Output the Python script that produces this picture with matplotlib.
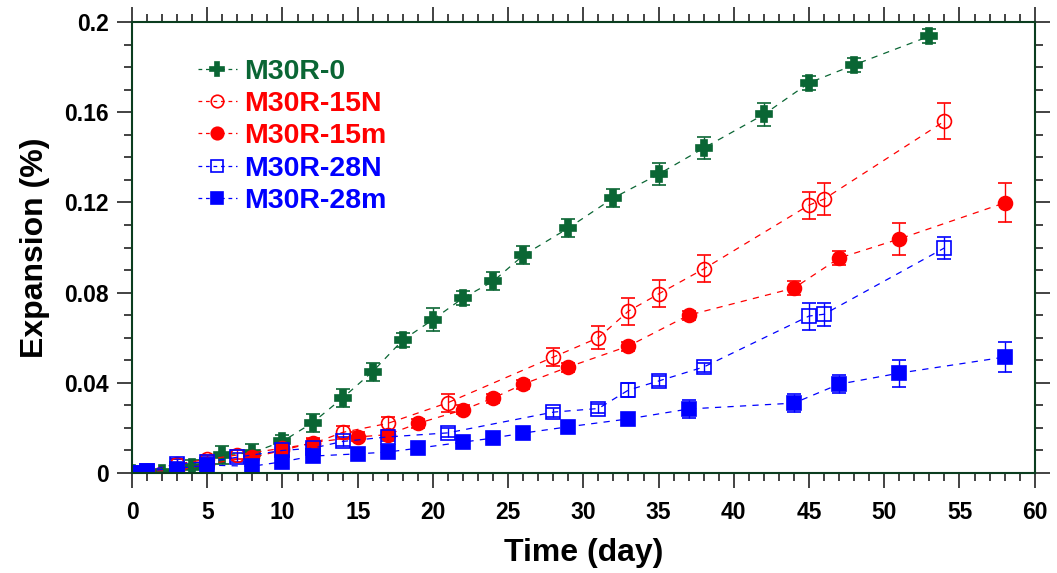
import matplotlib.pyplot as plt
from matplotlib.lines import Line2D
from matplotlib.ticker import MultipleLocator

plt.rcParams['font.family'] = ['Liberation Sans', 'DejaVu Sans']
plt.rcParams['font.weight'] = 'bold'

# expansion readings (%) and their scatter for each mix
day_0 = [0, 1, 2, 4, 6, 8, 10, 12, 14, 16, 18, 20, 22, 24, 26, 29, 32, 35, 38, 42, 45, 48, 53]
exp_0 = [0, 0, 0, 0.0027, 0.008, 0.009, 0.014, 0.0223, 0.0333, 0.045, 0.059, 0.068, 0.0776, 0.085,
         0.0965, 0.1086, 0.122, 0.1325, 0.1441, 0.159, 0.173, 0.181, 0.1937]
err_0 = [0.002, 0.002, 0.002, 0.003, 0.004, 0.004, 0.003, 0.004, 0.004, 0.004, 0.003, 0.005, 0.003, 0.004,
         0.004, 0.004, 0.004, 0.005, 0.005, 0.005, 0.003, 0.003, 0.003]

day_15n = [0, 1, 3, 5, 7, 10, 12, 14, 17, 21, 28, 31, 33, 35, 38, 45, 46, 54]
exp_15n = [0, 0.001, 0.004, 0.006, 0.008, 0.011, 0.013, 0.018, 0.022, 0.0312, 0.0514, 0.060, 0.0718,
           0.0794, 0.0905, 0.1188, 0.1215, 0.156]
err_15n = [0.001, 0.001, 0.002, 0.002, 0.002, 0.002, 0.002, 0.003, 0.003, 0.004, 0.004, 0.005, 0.006,
           0.006, 0.006, 0.006, 0.007, 0.008]

day_15m = [0, 1, 3, 5, 8, 10, 12, 15, 17, 19, 22, 24, 26, 29, 33, 37, 44, 47, 51, 58]
exp_15m = [0, 0.001, 0.001, 0.004, 0.007, 0.010, 0.0135, 0.016, 0.017, 0.022, 0.028, 0.0332, 0.0394,
           0.047, 0.0563, 0.070, 0.082, 0.0953, 0.1038, 0.1198]
err_15m = [0.001, 0.001, 0.002, 0.002, 0.002, 0.002, 0.002, 0.002, 0.002, 0.002, 0.002, 0.002, 0.002,
           0.002, 0.002, 0.002, 0.003, 0.003, 0.007, 0.0087]

day_28n = [0, 1, 3, 5, 7, 10, 12, 14, 17, 21, 28, 31, 33, 35, 38, 45, 46, 54]
exp_28n = [0, 0.001, 0.004, 0.005, 0.007, 0.010, 0.011, 0.014, 0.016, 0.0178, 0.027, 0.0286, 0.0368,
           0.0408, 0.047, 0.0696, 0.0704, 0.0998]
err_28n = [0.001, 0.001, 0.002, 0.002, 0.002, 0.002, 0.002, 0.002, 0.002, 0.002, 0.002, 0.002, 0.003,
           0.002, 0.002, 0.006, 0.005, 0.005]

day_28m = [0, 1, 3, 5, 8, 10, 12, 15, 17, 19, 22, 24, 26, 29, 33, 37, 44, 47, 51, 58]
exp_28m = [0, 0.001, 0.002, 0.0035, 0.003, 0.005, 0.0075, 0.0085, 0.0093, 0.011, 0.0137, 0.0155,
           0.0177, 0.0205, 0.024, 0.0284, 0.031, 0.0394, 0.0443, 0.0514]
err_28m = [0.001, 0.001, 0.001, 0.001, 0.001, 0.001, 0.001, 0.001, 0.001, 0.001, 0.001, 0.001, 0.001,
           0.001, 0.002, 0.004, 0.004, 0.004, 0.006, 0.0065]

green = '#0a6634'
red = '#ff0000'
blue = '#0000ff'

fig = plt.figure(figsize=(10.57, 5.73), dpi=100)
ax = fig.add_axes([0.1249, 0.1745, 0.854, 0.7871])

series = [
    (day_0, exp_0, err_0, 'M30R-0', green, 'P', green, 11),
    (day_15n, exp_15n, err_15n, 'M30R-15N', red, 'o', 'none', 10),
    (day_15m, exp_15m, err_15m, 'M30R-15m', red, 'o', red, 10),
    (day_28n, exp_28n, err_28n, 'M30R-28N', blue, 's', 'none', 9.5),
    (day_28m, exp_28m, err_28m, 'M30R-28m', blue, 's', blue, 9.5),
]

handles = []
for d, e, s, name, c, m, fc, ms in series:
    ax.errorbar(d, e, yerr=s, color=c, ecolor=c, elinewidth=1.0, capsize=5, capthick=1.0,
                linestyle=(0, (5, 5)), linewidth=0.9, marker=m, markersize=ms,
                markerfacecolor=fc, markeredgecolor=c, markeredgewidth=1.2)
    handles.append(Line2D([], [], color=c, linestyle=(0, (3, 3)), linewidth=0.9, marker=m,
                          markersize=ms * 0.9, markerfacecolor=fc, markeredgecolor=c,
                          markeredgewidth=1.2, label=name))

ax.set_xlim(0, 60)
ax.set_ylim(0, 0.2)
ax.xaxis.set_major_locator(MultipleLocator(5))
ax.xaxis.set_minor_locator(MultipleLocator(1))
ax.yaxis.set_minor_locator(MultipleLocator(0.01))
ax.set_yticks([0, 0.04, 0.08, 0.12, 0.16, 0.2])
ax.set_yticklabels(['0', '0.04', '0.08', '0.12', '0.16', '0.2'])

ax.tick_params(which='both', direction='out', top=True, right=True, labelsize=16.5, color='#222222')
ax.tick_params(which='major', length=11, width=1.2)
ax.tick_params(which='minor', length=6, width=1.2)
ax.tick_params(axis='x', which='major', pad=9)
ax.tick_params(axis='y', which='major', pad=6)
for lbl in ax.get_xticklabels() + ax.get_yticklabels():
    lbl.set_fontweight('bold')

for sp in ax.spines.values():
    sp.set_color('#0b3d1f')
    sp.set_linewidth(1.5)

ax.set_xlabel('Time (day)', fontsize=23, fontweight='bold', labelpad=10)
ax.set_ylabel('Expansion (%)', fontsize=23, fontweight='bold', labelpad=10)

leg = ax.legend(handles=handles, loc='upper left', bbox_to_anchor=(0.045, 0.975), frameon=False,
                fontsize=20.5, handlelength=1.35, handletextpad=0.25, labelspacing=0.22)
for txt, h in zip(leg.get_texts(), handles):
    txt.set_color(h.get_color())
    txt.set_fontweight('bold')

fig.savefig('out.png', dpi=100)
